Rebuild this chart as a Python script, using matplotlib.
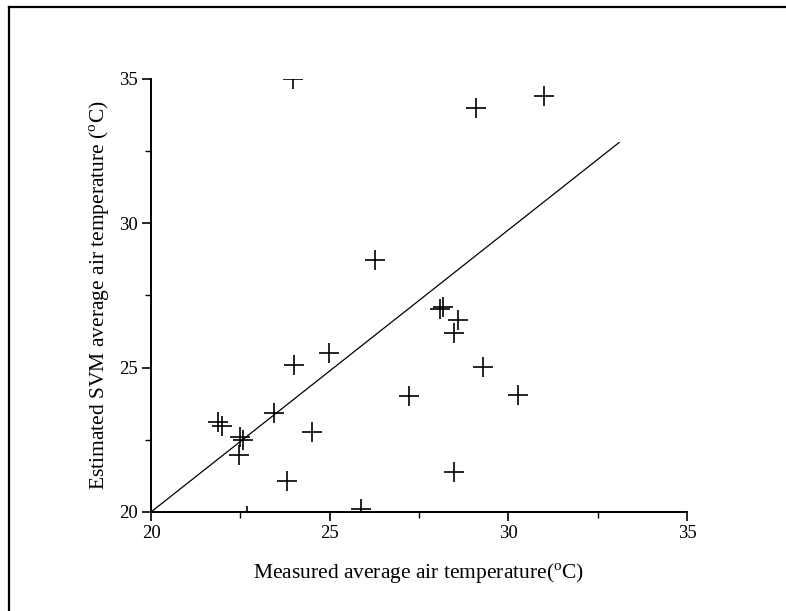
import matplotlib
matplotlib.use('Agg')
from matplotlib import pyplot as plt
from matplotlib.lines import Line2D
from matplotlib.ticker import MultipleLocator

# measured vs estimated (SVM) average air temperature, degC
measured = [23.97, 29.1, 31.0, 26.27, 28.09, 28.18, 28.6, 28.48, 29.28, 27.23, 30.28, 28.48,
            21.88, 21.98, 22.49, 22.58, 22.47, 23.45, 24.0, 24.97, 24.5, 23.8, 25.88, 22.68]
estimated = [35.0, 34.0, 34.4, 28.73, 27.02, 27.11, 26.65, 26.21, 25.03, 24.03, 24.05, 21.40,
             23.13, 22.98, 22.59, 22.49, 21.97, 23.42, 25.08, 25.52, 22.76, 21.08, 20.10, 19.85]

line_x = [20, 33.1]
line_y = [20, 32.8]

plt.rcParams['font.family'] = 'Liberation Serif'
plt.rcParams['mathtext.fontset'] = 'custom'
plt.rcParams['mathtext.rm'] = 'Liberation Serif'

fig = plt.figure(figsize=(7.86, 6.11), dpi=100)
ax = fig.add_axes([151 / 786, 99 / 611, 536 / 786, 433 / 611])

ax.plot(measured, estimated, linestyle='none', marker='+', markersize=14,
        markeredgewidth=1.2, color='black')
ax.plot(line_x, line_y, color='black', linewidth=0.9)

ax.set_xlim(20, 35)
ax.set_ylim(20, 35)
ax.xaxis.set_major_locator(MultipleLocator(5))
ax.xaxis.set_minor_locator(MultipleLocator(2.5))
ax.yaxis.set_major_locator(MultipleLocator(5))
ax.yaxis.set_minor_locator(MultipleLocator(2.5))

ax.spines['top'].set_visible(False)
ax.spines['right'].set_visible(False)
ax.spines['left'].set_linewidth(1.4)
ax.spines['bottom'].set_linewidth(1.4)
ax.tick_params(which='major', direction='out', length=6.5, width=1.2, labelsize=13.5, pad=3)
ax.tick_params(which='minor', direction='out', length=4, width=1.0)

ax.set_xlabel(r'Measured average air temperature($^{\mathrm{o}}$C)', fontsize=15.5, labelpad=14)
ax.set_ylabel(r'Estimated SVM average air temperature ($^{\mathrm{o}}$C)', fontsize=15.5, labelpad=5)

# outer frame (only top and left edges visible)
fig.add_artist(Line2D([9 / 786, 9 / 786], [0, 1 - 7 / 611], color='black', linewidth=1.6))
fig.add_artist(Line2D([9 / 786, 1], [1 - 7 / 611, 1 - 7 / 611], color='black', linewidth=1.6))

fig.savefig('out.png', dpi=100)
